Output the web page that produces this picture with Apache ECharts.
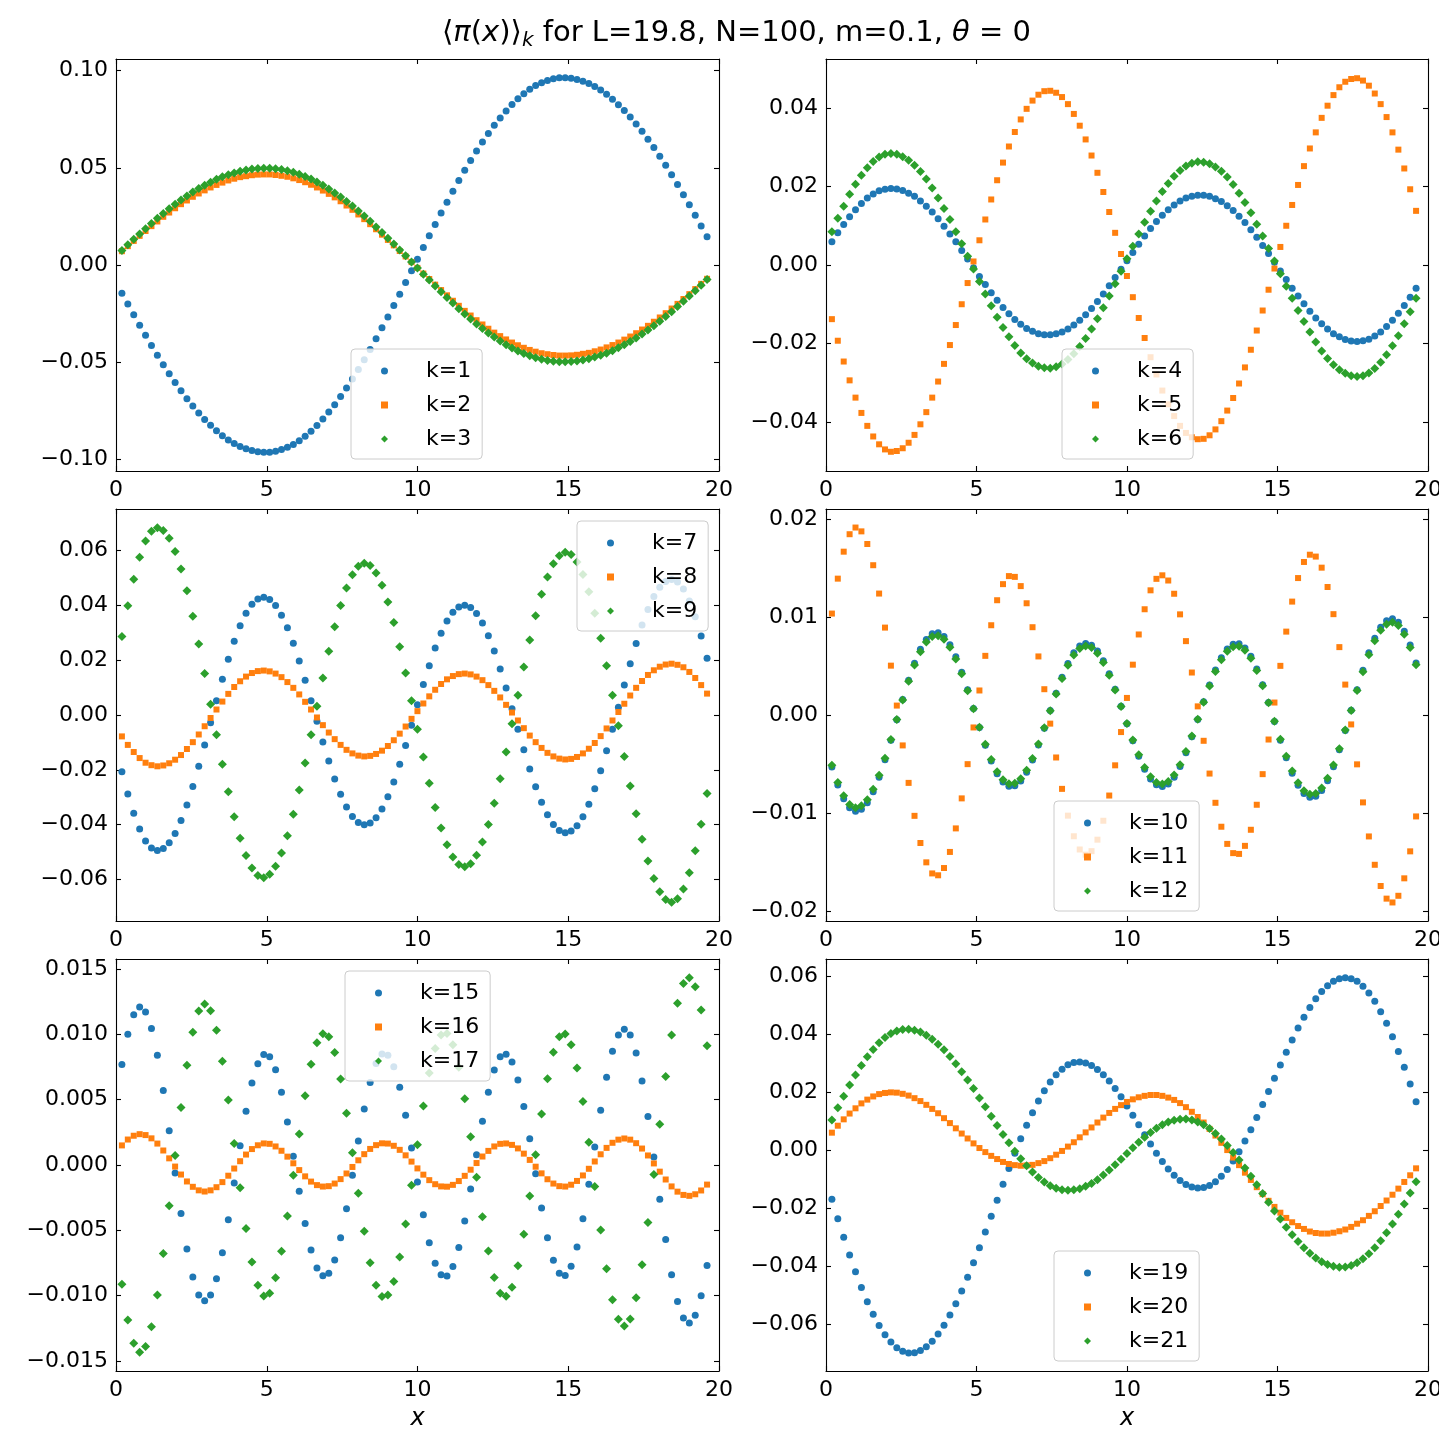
<!DOCTYPE html>
<html>
<head>
<meta charset="utf-8">
<script src="https://cdn.jsdelivr.net/npm/echarts@6/dist/echarts.min.js"></script>
<style>
html, body { margin: 0; padding: 0; background: #ffffff; }
#chart { width: 1439px; height: 1432px; }
</style>
</head>
<body>
<div id="chart"></div>
<script>
// Lattice: N interior sites on a box of length L, x_n = n L / (N + 1)
const L = 19.8, N = 100;
const xs = Array.from({ length: N }, (_, n) => (n + 1) * L / (N + 1));

const xTicks = [0, 5, 10, 15, 20];

// <pi(x)>_k, one array per mode k
const k1 = [-0.0146,-0.0201,-0.0256,-0.0310,-0.0362,-0.0414,-0.0464,-0.0513,-0.0559,-0.0604,
-0.0647,-0.0688,-0.0726,-0.0762,-0.0795,-0.0825,-0.0853,-0.0878,-0.0900,-0.0918,
-0.0934,-0.0946,-0.0955,-0.0961,-0.0964,-0.0963,-0.0959,-0.0950,-0.0938,-0.0923,
-0.0904,-0.0881,-0.0855,-0.0826,-0.0793,-0.0757,-0.0719,-0.0677,-0.0633,-0.0587,
-0.0538,-0.0487,-0.0435,-0.0380,-0.0323,-0.0267,-0.0209,-0.0150,-0.0090,-0.0030,
0.0030,0.0090,0.0150,0.0209,0.0267,0.0323,0.0380,0.0435,0.0487,0.0538,
0.0587,0.0633,0.0677,0.0719,0.0757,0.0793,0.0826,0.0855,0.0881,0.0904,
0.0923,0.0938,0.0950,0.0959,0.0963,0.0964,0.0961,0.0955,0.0946,0.0934,
0.0918,0.0900,0.0878,0.0853,0.0825,0.0795,0.0762,0.0726,0.0688,0.0647,
0.0604,0.0559,0.0513,0.0464,0.0414,0.0362,0.0310,0.0256,0.0201,0.0146];

const k2 = [0.0071,0.0097,0.0124,0.0150,0.0175,0.0200,0.0224,0.0248,0.0270,0.0292,
0.0313,0.0332,0.0351,0.0368,0.0384,0.0399,0.0412,0.0424,0.0435,0.0444,
0.0452,0.0457,0.0462,0.0465,0.0466,0.0466,0.0463,0.0459,0.0454,0.0446,
0.0437,0.0426,0.0413,0.0399,0.0383,0.0366,0.0348,0.0328,0.0306,0.0284,
0.0260,0.0236,0.0210,0.0184,0.0156,0.0129,0.0101,0.0072,0.0044,0.0015,
-0.0015,-0.0044,-0.0072,-0.0101,-0.0129,-0.0156,-0.0184,-0.0210,-0.0236,-0.0260,
-0.0284,-0.0306,-0.0328,-0.0348,-0.0366,-0.0383,-0.0399,-0.0413,-0.0426,-0.0437,
-0.0446,-0.0454,-0.0459,-0.0463,-0.0466,-0.0466,-0.0465,-0.0462,-0.0457,-0.0452,
-0.0444,-0.0435,-0.0424,-0.0412,-0.0399,-0.0384,-0.0368,-0.0351,-0.0332,-0.0313,
-0.0292,-0.0270,-0.0248,-0.0224,-0.0200,-0.0175,-0.0150,-0.0124,-0.0097,-0.0071];

const k3 = [0.0075,0.0104,0.0132,0.0160,0.0187,0.0214,0.0240,0.0265,0.0289,0.0312,
0.0334,0.0355,0.0375,0.0394,0.0411,0.0426,0.0441,0.0454,0.0465,0.0474,
0.0483,0.0489,0.0494,0.0497,0.0498,0.0498,0.0495,0.0491,0.0485,0.0477,
0.0467,0.0455,0.0442,0.0427,0.0410,0.0391,0.0371,0.0350,0.0327,0.0303,
0.0278,0.0252,0.0225,0.0196,0.0167,0.0138,0.0108,0.0077,0.0047,0.0016,
-0.0016,-0.0047,-0.0077,-0.0108,-0.0138,-0.0167,-0.0196,-0.0225,-0.0252,-0.0278,
-0.0303,-0.0327,-0.0350,-0.0371,-0.0391,-0.0410,-0.0427,-0.0442,-0.0455,-0.0467,
-0.0477,-0.0485,-0.0491,-0.0495,-0.0498,-0.0498,-0.0497,-0.0494,-0.0489,-0.0483,
-0.0474,-0.0465,-0.0454,-0.0441,-0.0426,-0.0411,-0.0394,-0.0375,-0.0355,-0.0334,
-0.0312,-0.0289,-0.0265,-0.0240,-0.0214,-0.0187,-0.0160,-0.0132,-0.0104,-0.0075];

const k4 = [0.0059,0.0082,0.0103,0.0123,0.0141,0.0157,0.0171,0.0181,0.0189,0.0193,
0.0195,0.0194,0.0190,0.0183,0.0175,0.0163,0.0150,0.0135,0.0118,0.0099,
0.0079,0.0059,0.0037,0.0015,-0.0007,-0.0029,-0.0050,-0.0071,-0.0090,-0.0108,
-0.0124,-0.0139,-0.0151,-0.0162,-0.0169,-0.0175,-0.0178,-0.0178,-0.0175,-0.0171,
-0.0163,-0.0153,-0.0141,-0.0127,-0.0111,-0.0093,-0.0074,-0.0053,-0.0032,-0.0011,
0.0011,0.0032,0.0053,0.0074,0.0093,0.0111,0.0127,0.0141,0.0153,0.0163,
0.0171,0.0175,0.0178,0.0178,0.0175,0.0169,0.0162,0.0151,0.0139,0.0124,
0.0108,0.0090,0.0071,0.0050,0.0029,0.0007,-0.0015,-0.0037,-0.0059,-0.0079,
-0.0099,-0.0118,-0.0135,-0.0150,-0.0163,-0.0175,-0.0183,-0.0190,-0.0194,-0.0195,
-0.0193,-0.0189,-0.0181,-0.0171,-0.0157,-0.0141,-0.0123,-0.0103,-0.0082,-0.0059];

const k5 = [-0.0138,-0.0193,-0.0246,-0.0294,-0.0338,-0.0377,-0.0410,-0.0437,-0.0457,-0.0470,
-0.0476,-0.0474,-0.0467,-0.0453,-0.0433,-0.0406,-0.0375,-0.0338,-0.0297,-0.0252,
-0.0204,-0.0153,-0.0100,-0.0046,0.0009,0.0063,0.0116,0.0167,0.0216,0.0261,
0.0302,0.0339,0.0371,0.0398,0.0419,0.0434,0.0443,0.0444,0.0439,0.0428,
0.0410,0.0385,0.0355,0.0320,0.0279,0.0235,0.0186,0.0135,0.0082,0.0028,
-0.0028,-0.0082,-0.0135,-0.0186,-0.0235,-0.0279,-0.0320,-0.0355,-0.0385,-0.0410,
-0.0428,-0.0439,-0.0444,-0.0443,-0.0434,-0.0419,-0.0398,-0.0371,-0.0339,-0.0302,
-0.0261,-0.0216,-0.0167,-0.0116,-0.0063,-0.0009,0.0046,0.0100,0.0153,0.0204,
0.0252,0.0297,0.0338,0.0375,0.0406,0.0433,0.0453,0.0467,0.0474,0.0476,
0.0470,0.0457,0.0437,0.0410,0.0377,0.0338,0.0294,0.0246,0.0193,0.0138];

const k6 = [0.0085,0.0119,0.0150,0.0180,0.0206,0.0229,0.0248,0.0264,0.0275,0.0282,
0.0284,0.0282,0.0276,0.0267,0.0254,0.0238,0.0219,0.0196,0.0171,0.0144,
0.0116,0.0085,0.0054,0.0022,-0.0010,-0.0042,-0.0074,-0.0104,-0.0133,-0.0159,
-0.0183,-0.0205,-0.0224,-0.0239,-0.0250,-0.0258,-0.0262,-0.0263,-0.0259,-0.0252,
-0.0241,-0.0226,-0.0208,-0.0187,-0.0163,-0.0137,-0.0109,-0.0079,-0.0048,-0.0016,
0.0016,0.0048,0.0079,0.0109,0.0137,0.0163,0.0187,0.0208,0.0226,0.0241,
0.0252,0.0259,0.0263,0.0262,0.0258,0.0250,0.0239,0.0224,0.0205,0.0183,
0.0159,0.0133,0.0104,0.0074,0.0042,0.0010,-0.0022,-0.0054,-0.0085,-0.0116,
-0.0144,-0.0171,-0.0196,-0.0219,-0.0238,-0.0254,-0.0267,-0.0276,-0.0282,-0.0284,
-0.0282,-0.0275,-0.0264,-0.0248,-0.0229,-0.0206,-0.0180,-0.0150,-0.0119,-0.0085];

const k7 = [-0.0207,-0.0288,-0.0358,-0.0416,-0.0459,-0.0485,-0.0494,-0.0487,-0.0466,-0.0432,
-0.0385,-0.0328,-0.0261,-0.0187,-0.0109,-0.0028,0.0052,0.0130,0.0203,0.0269,
0.0325,0.0371,0.0404,0.0423,0.0429,0.0421,0.0399,0.0364,0.0318,0.0262,
0.0197,0.0127,0.0052,-0.0023,-0.0098,-0.0168,-0.0233,-0.0289,-0.0335,-0.0370,
-0.0392,-0.0400,-0.0394,-0.0375,-0.0343,-0.0298,-0.0244,-0.0180,-0.0111,-0.0037,
0.0037,0.0111,0.0180,0.0244,0.0298,0.0343,0.0375,0.0394,0.0400,0.0392,
0.0370,0.0335,0.0289,0.0233,0.0168,0.0098,0.0023,-0.0052,-0.0127,-0.0197,
-0.0262,-0.0318,-0.0364,-0.0399,-0.0421,-0.0429,-0.0423,-0.0404,-0.0371,-0.0325,
-0.0269,-0.0203,-0.0130,-0.0052,0.0028,0.0109,0.0187,0.0261,0.0328,0.0385,
0.0432,0.0466,0.0487,0.0494,0.0485,0.0459,0.0416,0.0358,0.0288,0.0207];

const k8 = [-0.0078,-0.0109,-0.0135,-0.0157,-0.0174,-0.0183,-0.0187,-0.0184,-0.0176,-0.0163,
-0.0146,-0.0124,-0.0099,-0.0071,-0.0041,-0.0011,0.0020,0.0049,0.0077,0.0102,
0.0123,0.0140,0.0153,0.0160,0.0162,0.0159,0.0151,0.0138,0.0120,0.0099,
0.0075,0.0048,0.0020,-0.0009,-0.0037,-0.0064,-0.0088,-0.0109,-0.0127,-0.0140,
-0.0148,-0.0151,-0.0149,-0.0142,-0.0130,-0.0113,-0.0092,-0.0068,-0.0042,-0.0014,
0.0014,0.0042,0.0068,0.0092,0.0113,0.0130,0.0142,0.0149,0.0151,0.0148,
0.0140,0.0127,0.0109,0.0088,0.0064,0.0037,0.0009,-0.0020,-0.0048,-0.0075,
-0.0099,-0.0120,-0.0138,-0.0151,-0.0159,-0.0162,-0.0160,-0.0153,-0.0140,-0.0123,
-0.0102,-0.0077,-0.0049,-0.0020,0.0011,0.0041,0.0071,0.0099,0.0124,0.0146,
0.0163,0.0176,0.0184,0.0187,0.0183,0.0174,0.0157,0.0135,0.0109,0.0078];

const k9 = [0.0286,0.0398,0.0495,0.0575,0.0634,0.0670,0.0683,0.0673,0.0644,0.0596,
0.0532,0.0453,0.0360,0.0259,0.0151,0.0039,-0.0072,-0.0180,-0.0280,-0.0371,
-0.0449,-0.0512,-0.0558,-0.0585,-0.0593,-0.0581,-0.0551,-0.0503,-0.0440,-0.0362,
-0.0273,-0.0175,-0.0072,0.0032,0.0135,0.0232,0.0322,0.0399,0.0463,0.0511,
0.0542,0.0553,0.0545,0.0518,0.0473,0.0412,0.0337,0.0249,0.0153,0.0052,
-0.0052,-0.0153,-0.0249,-0.0337,-0.0412,-0.0473,-0.0518,-0.0545,-0.0553,-0.0542,
-0.0511,-0.0463,-0.0399,-0.0322,-0.0232,-0.0135,-0.0032,0.0072,0.0175,0.0273,
0.0362,0.0440,0.0503,0.0551,0.0581,0.0593,0.0585,0.0558,0.0512,0.0449,
0.0371,0.0280,0.0180,0.0072,-0.0039,-0.0151,-0.0259,-0.0360,-0.0453,-0.0532,
-0.0596,-0.0644,-0.0673,-0.0683,-0.0670,-0.0634,-0.0575,-0.0495,-0.0398,-0.0286];

const k10 = [-0.00530,-0.00713,-0.00854,-0.00945,-0.00980,-0.00960,-0.00894,-0.00783,-0.00635,-0.00457,
-0.00258,-0.00049,0.00159,0.00355,0.00527,0.00669,0.00770,0.00828,0.00838,0.00800,
0.00716,0.00593,0.00436,0.00257,0.00065,-0.00128,-0.00309,-0.00469,-0.00600,-0.00684,
-0.00726,-0.00722,-0.00674,-0.00584,-0.00459,-0.00306,-0.00135,0.00045,0.00222,0.00386,
0.00526,0.00634,0.00703,0.00730,0.00712,0.00652,0.00553,0.00421,0.00263,0.00089,
-0.00089,-0.00263,-0.00421,-0.00553,-0.00652,-0.00712,-0.00730,-0.00703,-0.00634,-0.00526,
-0.00386,-0.00222,-0.00045,0.00135,0.00306,0.00459,0.00584,0.00674,0.00722,0.00726,
0.00684,0.00600,0.00469,0.00309,0.00128,-0.00065,-0.00257,-0.00436,-0.00593,-0.00716,
-0.00800,-0.00838,-0.00828,-0.00770,-0.00669,-0.00527,-0.00355,-0.00159,0.00049,0.00258,
0.00457,0.00635,0.00783,0.00894,0.00960,0.00980,0.00945,0.00854,0.00713,0.00530];

const k11 = [0.01034,0.01390,0.01665,0.01843,0.01911,0.01872,0.01743,0.01527,0.01238,0.00891,
0.00503,0.00096,-0.00310,-0.00692,-0.01028,-0.01305,-0.01502,-0.01615,-0.01634,-0.01560,
-0.01396,-0.01156,-0.00850,-0.00501,-0.00127,0.00250,0.00603,0.00915,0.01170,0.01334,
0.01416,0.01408,0.01314,0.01139,0.00895,0.00597,0.00263,-0.00088,-0.00433,-0.00753,
-0.01026,-0.01236,-0.01371,-0.01424,-0.01388,-0.01271,-0.01078,-0.00821,-0.00513,-0.00174,
0.00174,0.00513,0.00821,0.01078,0.01271,0.01388,0.01424,0.01371,0.01236,0.01026,
0.00753,0.00433,0.00088,-0.00263,-0.00597,-0.00895,-0.01139,-0.01314,-0.01408,-0.01416,
-0.01334,-0.01170,-0.00915,-0.00603,-0.00250,0.00127,0.00501,0.00850,0.01156,0.01396,
0.01560,0.01634,0.01615,0.01502,0.01305,0.01028,0.00692,0.00310,-0.00096,-0.00503,
-0.00891,-0.01238,-0.01527,-0.01743,-0.01872,-0.01911,-0.01843,-0.01665,-0.01390,-0.01034];

const k12 = [-0.00511,-0.00688,-0.00824,-0.00912,-0.00946,-0.00926,-0.00863,-0.00756,-0.00613,-0.00441,
-0.00249,-0.00047,0.00153,0.00343,0.00509,0.00646,0.00743,0.00799,0.00809,0.00772,
0.00691,0.00572,0.00421,0.00248,0.00063,-0.00124,-0.00298,-0.00453,-0.00579,-0.00660,
-0.00701,-0.00697,-0.00650,-0.00564,-0.00443,-0.00295,-0.00130,0.00043,0.00214,0.00372,
0.00508,0.00612,0.00678,0.00704,0.00687,0.00629,0.00534,0.00406,0.00254,0.00086,
-0.00086,-0.00254,-0.00406,-0.00534,-0.00629,-0.00687,-0.00704,-0.00678,-0.00612,-0.00508,
-0.00372,-0.00214,-0.00043,0.00130,0.00295,0.00443,0.00564,0.00650,0.00697,0.00701,
0.00660,0.00579,0.00453,0.00298,0.00124,-0.00063,-0.00248,-0.00421,-0.00572,-0.00691,
-0.00772,-0.00809,-0.00799,-0.00743,-0.00646,-0.00509,-0.00343,-0.00153,0.00047,0.00249,
0.00441,0.00613,0.00756,0.00863,0.00926,0.00946,0.00912,0.00824,0.00688,0.00511];

const k15 = [0.00770,0.01001,0.01151,0.01210,0.01172,0.01045,0.00840,0.00571,0.00263,-0.00061,
-0.00372,-0.00644,-0.00858,-0.00995,-0.01040,-0.00996,-0.00870,-0.00671,-0.00419,-0.00138,
0.00147,0.00411,0.00627,0.00776,0.00846,0.00829,0.00729,0.00557,0.00329,0.00067,
-0.00201,-0.00448,-0.00651,-0.00789,-0.00848,-0.00829,-0.00727,-0.00556,-0.00334,-0.00079,
0.00183,0.00428,0.00632,0.00777,0.00849,0.00840,0.00753,0.00595,0.00381,0.00131,
-0.00131,-0.00381,-0.00595,-0.00753,-0.00840,-0.00849,-0.00777,-0.00632,-0.00428,-0.00183,
0.00079,0.00334,0.00556,0.00727,0.00829,0.00848,0.00789,0.00651,0.00448,0.00201,
-0.00067,-0.00329,-0.00557,-0.00729,-0.00829,-0.00846,-0.00776,-0.00627,-0.00411,-0.00147,
0.00138,0.00419,0.00671,0.00870,0.00996,0.01040,0.00995,0.00858,0.00644,0.00372,
0.00061,-0.00263,-0.00571,-0.00840,-0.01045,-0.01172,-0.01210,-0.01151,-0.01001,-0.00770];

const k16 = [0.00150,0.00195,0.00224,0.00236,0.00229,0.00204,0.00164,0.00111,0.00051,-0.00012,
-0.00073,-0.00126,-0.00167,-0.00194,-0.00203,-0.00194,-0.00170,-0.00131,-0.00082,-0.00027,
0.00029,0.00080,0.00122,0.00151,0.00165,0.00162,0.00142,0.00109,0.00064,0.00013,
-0.00039,-0.00087,-0.00127,-0.00154,-0.00165,-0.00162,-0.00142,-0.00108,-0.00065,-0.00015,
0.00036,0.00083,0.00123,0.00152,0.00166,0.00164,0.00147,0.00116,0.00074,0.00026,
-0.00026,-0.00074,-0.00116,-0.00147,-0.00164,-0.00166,-0.00152,-0.00123,-0.00083,-0.00036,
0.00015,0.00065,0.00108,0.00142,0.00162,0.00165,0.00154,0.00127,0.00087,0.00039,
-0.00013,-0.00064,-0.00109,-0.00142,-0.00162,-0.00165,-0.00151,-0.00122,-0.00080,-0.00029,
0.00027,0.00082,0.00131,0.00170,0.00194,0.00203,0.00194,0.00167,0.00126,0.00073,
0.00012,-0.00051,-0.00111,-0.00164,-0.00204,-0.00229,-0.00236,-0.00224,-0.00195,-0.00150];

const k17 = [-0.00912,-0.01186,-0.01364,-0.01434,-0.01389,-0.01238,-0.00995,-0.00677,-0.00312,0.00072,
0.00441,0.00763,0.01017,0.01179,0.01232,0.01180,0.01031,0.00795,0.00497,0.00164,
-0.00174,-0.00487,-0.00743,-0.00920,-0.01003,-0.00982,-0.00864,-0.00660,-0.00390,-0.00079,
0.00238,0.00531,0.00771,0.00935,0.01005,0.00982,0.00861,0.00659,0.00396,0.00094,
-0.00217,-0.00507,-0.00749,-0.00921,-0.01006,-0.00995,-0.00892,-0.00705,-0.00451,-0.00155,
0.00155,0.00451,0.00705,0.00892,0.00995,0.01006,0.00921,0.00749,0.00507,0.00217,
-0.00094,-0.00396,-0.00659,-0.00861,-0.00982,-0.01005,-0.00935,-0.00771,-0.00531,-0.00238,
0.00079,0.00390,0.00660,0.00864,0.00982,0.01003,0.00920,0.00743,0.00487,0.00174,
-0.00164,-0.00497,-0.00795,-0.01031,-0.01180,-0.01232,-0.01179,-0.01017,-0.00763,-0.00441,
-0.00072,0.00312,0.00677,0.00995,0.01238,0.01389,0.01434,0.01364,0.01186,0.00912];

const k19 = [-0.0168,-0.0235,-0.0299,-0.0360,-0.0418,-0.0472,-0.0521,-0.0564,-0.0603,-0.0635,
-0.0660,-0.0680,-0.0692,-0.0698,-0.0697,-0.0689,-0.0676,-0.0657,-0.0632,-0.0602,
-0.0567,-0.0528,-0.0484,-0.0437,-0.0387,-0.0335,-0.0281,-0.0226,-0.0171,-0.0116,
-0.0062,-0.0009,0.0041,0.0088,0.0131,0.0171,0.0207,0.0237,0.0262,0.0281,
0.0296,0.0304,0.0306,0.0302,0.0294,0.0280,0.0262,0.0240,0.0214,0.0186,
0.0154,0.0122,0.0089,0.0055,0.0023,-0.0009,-0.0037,-0.0063,-0.0085,-0.0103,
-0.0117,-0.0125,-0.0129,-0.0127,-0.0120,-0.0107,-0.0088,-0.0065,-0.0036,-0.0004,
0.0033,0.0072,0.0114,0.0159,0.0204,0.0250,0.0295,0.0339,0.0382,0.0423,
0.0460,0.0494,0.0524,0.0549,0.0569,0.0584,0.0593,0.0596,0.0593,0.0584,
0.0567,0.0544,0.0515,0.0479,0.0439,0.0393,0.0342,0.0288,0.0230,0.0169];

const k20 = [0.0062,0.0086,0.0108,0.0128,0.0146,0.0163,0.0176,0.0187,0.0195,0.0199,
0.0201,0.0200,0.0196,0.0190,0.0181,0.0171,0.0158,0.0144,0.0129,0.0112,
0.0095,0.0077,0.0059,0.0042,0.0025,0.0009,-0.0005,-0.0018,-0.0029,-0.0039,
-0.0046,-0.0050,-0.0052,-0.0051,-0.0049,-0.0043,-0.0036,-0.0026,-0.0014,-0.0001,
0.0014,0.0029,0.0046,0.0063,0.0080,0.0097,0.0114,0.0130,0.0144,0.0157,
0.0168,0.0177,0.0184,0.0189,0.0192,0.0192,0.0189,0.0183,0.0175,0.0164,
0.0150,0.0134,0.0116,0.0097,0.0075,0.0052,0.0027,0.0002,-0.0024,-0.0050,
-0.0076,-0.0101,-0.0126,-0.0150,-0.0173,-0.0194,-0.0214,-0.0232,-0.0247,-0.0260,
-0.0270,-0.0279,-0.0284,-0.0286,-0.0286,-0.0283,-0.0278,-0.0272,-0.0263,-0.0252,
-0.0240,-0.0225,-0.0209,-0.0191,-0.0172,-0.0152,-0.0131,-0.0108,-0.0085,-0.0061];

const k21 = [0.0106,0.0148,0.0188,0.0226,0.0261,0.0294,0.0324,0.0349,0.0372,0.0390,
0.0404,0.0413,0.0418,0.0419,0.0415,0.0409,0.0398,0.0384,0.0367,0.0348,
0.0325,0.0300,0.0272,0.0244,0.0214,0.0182,0.0151,0.0119,0.0087,0.0056,
0.0027,-0.0002,-0.0028,-0.0052,-0.0074,-0.0093,-0.0108,-0.0121,-0.0130,-0.0135,
-0.0137,-0.0135,-0.0131,-0.0123,-0.0113,-0.0100,-0.0084,-0.0067,-0.0049,-0.0030,
-0.0010,0.0010,0.0029,0.0046,0.0063,0.0077,0.0089,0.0099,0.0105,0.0108,
0.0109,0.0106,0.0099,0.0089,0.0076,0.0059,0.0040,0.0018,-0.0006,-0.0032,
-0.0060,-0.0088,-0.0118,-0.0148,-0.0178,-0.0208,-0.0236,-0.0264,-0.0290,-0.0313,
-0.0335,-0.0354,-0.0370,-0.0383,-0.0393,-0.0399,-0.0402,-0.0401,-0.0396,-0.0387,
-0.0373,-0.0356,-0.0335,-0.0311,-0.0283,-0.0253,-0.0219,-0.0184,-0.0146,-0.0107];

// mode labels and y ticks for each panel
const names = [['k=1','k=2','k=3'], ['k=4','k=5','k=6'], ['k=7','k=8','k=9'],
               ['k=10','k=11','k=12'], ['k=15','k=16','k=17'], ['k=19','k=20','k=21']];
const values = [[k1,k2,k3], [k4,k5,k6], [k7,k8,k9], [k10,k11,k12], [k15,k16,k17], [k19,k20,k21]];
const yTicks = [
  [-0.10, -0.05, 0, 0.05, 0.10],
  [-0.04, -0.02, 0, 0.02, 0.04],
  [-0.06, -0.04, -0.02, 0, 0.02, 0.04, 0.06],
  [-0.02, -0.01, 0, 0.01, 0.02],
  [-0.015, -0.010, -0.005, 0, 0.005, 0.010, 0.015],
  [-0.06, -0.04, -0.02, 0, 0.02, 0.04, 0.06]
];
const yDecimals = [2, 2, 2, 2, 3, 2];
const yLimits = [[-0.1060, 0.1060], [-0.0525, 0.0525], [-0.0751, 0.0751],
                 [-0.0210, 0.0210], [-0.01577, 0.01577], [-0.0760, 0.0661]];

// layout
const FONT = 'DejaVu Sans';
const colors = ['#1f77b4', '#ff7f0e', '#2ca02c'];
const symbols = ['circle', 'rect', 'diamond'];
const symbolSizes = [7, 6, 9];
const gridBoxes = [
  { left: 116, top: 59,  width: 603, height: 412 },
  { left: 826, top: 59,  width: 602, height: 412 },
  { left: 116, top: 509, width: 603, height: 412 },
  { left: 826, top: 509, width: 602, height: 412 },
  { left: 116, top: 959, width: 603, height: 412 },
  { left: 826, top: 959, width: 602, height: 412 }
];
const legendPos = [[351, 349], [1062, 349], [577, 521], [1054, 801], [345, 971], [1054, 1251]];

const frameLine = { show: true, onZero: false, lineStyle: { color: '#000', width: 1.1 } };
const tickStyle = { color: '#000', width: 1.1 };
const fmtY = (v, d) => (v < 0 ? '\u2212' : '') + Math.abs(v).toFixed(d);

const grid = [], xAxis = [], yAxis = [], series = [], legend = [];
gridBoxes.forEach((box, g) => {
  // fixed plot boxes: do not let axis names shrink the grid
  grid.push(Object.assign({ containLabel: false, outerBoundsMode: 'none' }, box));
  const bottomRow = g >= 4;
  xAxis.push({
    gridIndex: g, type: 'value', position: 'bottom', min: xTicks[0], max: xTicks[xTicks.length - 1], interval: 5,
    axisLine: frameLine,
    axisTick: { show: true, inside: true, length: 5, lineStyle: tickStyle },
    axisLabel: { show: true, fontSize: 22, fontFamily: FONT, color: '#000', margin: 8 },
    splitLine: { show: false },
    name: bottomRow ? 'x' : '', nameLocation: 'middle', nameGap: 36,
    nameTextStyle: { fontSize: 24, fontStyle: 'italic', fontFamily: FONT, color: '#000' }
  });
  xAxis.push({
    gridIndex: g, type: 'value', position: 'top', min: xTicks[0], max: xTicks[xTicks.length - 1], interval: 5,
    axisLine: frameLine,
    axisTick: { show: true, inside: true, length: 5, lineStyle: tickStyle },
    axisLabel: { show: false }, splitLine: { show: false }
  });
  const t = yTicks[g];
  yAxis.push({
    gridIndex: g, type: 'value', position: 'left', min: yLimits[g][0], max: yLimits[g][1],
    axisLine: frameLine,
    axisTick: { show: true, inside: true, length: 5, lineStyle: tickStyle, customValues: t },
    axisLabel: { show: true, fontSize: 22, fontFamily: FONT, color: '#000', margin: 8,
                 customValues: t, formatter: v => fmtY(v, yDecimals[g]) },
    splitLine: { show: false }
  });
  yAxis.push({
    gridIndex: g, type: 'value', position: 'right', min: yLimits[g][0], max: yLimits[g][1],
    axisLine: frameLine,
    axisTick: { show: true, inside: true, length: 5, lineStyle: tickStyle, customValues: t },
    axisLabel: { show: false }, splitLine: { show: false }
  });
  names[g].forEach((nm, s) => {
    series.push({
      type: 'scatter', name: nm, xAxisIndex: 2 * g, yAxisIndex: 2 * g,
      symbol: symbols[s], symbolSize: symbolSizes[s],
      itemStyle: { color: colors[s], opacity: 1 },
      emphasis: { disabled: true }, silent: true,
      data: xs.map((x, i) => [x, values[g][s][i]])
    });
  });
  legend.push({
    data: names[g], orient: 'vertical', left: legendPos[g][0], top: legendPos[g][1],
    padding: [11, 11, 9, 30], itemGap: 12, itemWidth: 7, itemHeight: 7,
    backgroundColor: 'rgba(255,255,255,0.8)', borderColor: '#cccccc', borderWidth: 1, borderRadius: 4,
    selectedMode: false,
    formatter: n => '{t|' + n + '}',
    textStyle: { fontSize: 22, fontFamily: FONT, color: '#000',
      rich: { t: { fontSize: 22, fontFamily: FONT, color: '#000', lineHeight: 24, padding: [0, 0, 0, 33] } } }
  });
});

const chart = echarts.init(document.getElementById('chart'), null, { renderer: 'canvas' });
chart.setOption({
  animation: false,
  backgroundColor: '#ffffff',
  title: {
    left: 437, top: 10,
    text: '{n|\u27E8}{i|\u03C0}{n|(}{i|x}{n|)\u27E9}{s|k}{n| for L=19.8, N=100, m=0.1, }{i|\u03B8}{n| = 0}',
    textStyle: {
      fontSize: 29, fontFamily: FONT, color: '#000', fontWeight: 'normal',
      rich: {
        n: { fontSize: 29, fontFamily: FONT, color: '#000', lineHeight: 36 },
        i: { fontSize: 29, fontFamily: FONT, color: '#000', fontStyle: 'italic', lineHeight: 36 },
        s: { fontSize: 20, fontFamily: FONT, color: '#000', fontStyle: 'italic', lineHeight: 36, verticalAlign: 'bottom' }
      }
    }
  },
  grid, xAxis, yAxis, series, legend
});
</script>
</body>
</html>
